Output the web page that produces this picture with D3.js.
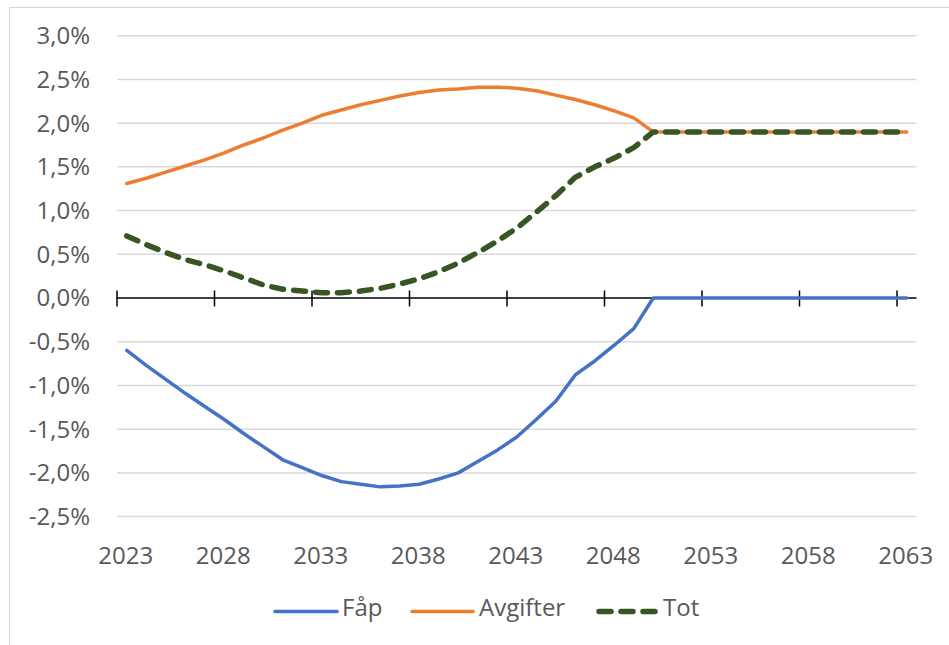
<!DOCTYPE html>
<html>
<head>
<meta charset="utf-8">
<script src="https://cdn.jsdelivr.net/npm/d3@7"></script>
<style>
  html, body { margin: 0; padding: 0; background: #fff; }
  svg { display: block; }
  text { font-family: "Open Sans", "Noto Sans", sans-serif; fill: #595959; }
</style>
</head>
<body>
<svg id="chart" width="949" height="645"></svg>
<script>
// ---- data ----
const years = [2023,2024,2025,2026,2027,2028,2029,2030,2031,2032,2033,2034,2035,2036,2037,2038,2039,2040,2041,2042,2043,2044,2045,2046,2047,2048,2049,2050,2051,2052,2053,2054,2055,2056,2057,2058,2059,2060,2061,2062,2063];
const fap = [-0.60,-0.77,-0.93,-1.09,-1.24,-1.39,-1.55,-1.70,-1.85,-1.94,-2.03,-2.10,-2.13,-2.16,-2.15,-2.13,-2.07,-2.00,-1.87,-1.74,-1.59,-1.39,-1.18,-0.88,-0.72,-0.54,-0.35,0,0,0,0,0,0,0,0,0,0,0,0,0,0];
const avgifter = [1.31,1.37,1.44,1.51,1.58,1.66,1.75,1.83,1.92,2.00,2.09,2.15,2.21,2.26,2.31,2.35,2.38,2.39,2.41,2.41,2.40,2.37,2.32,2.27,2.21,2.14,2.06,1.90,1.90,1.90,1.90,1.90,1.90,1.90,1.90,1.90,1.90,1.90,1.90,1.90,1.90];
const tot = [0.71,0.61,0.52,0.44,0.38,0.31,0.23,0.15,0.10,0.08,0.06,0.06,0.08,0.11,0.16,0.22,0.30,0.40,0.52,0.65,0.80,0.98,1.17,1.38,1.50,1.60,1.72,1.90,1.90,1.90,1.90,1.90,1.90,1.90,1.90,1.90,1.90,1.90,1.90,1.90,1.90];
const xTickLabels = ["2023","2028","2033","2038","2043","2048","2053","2058","2063"];
const yTicks = [3.0,2.5,2.0,1.5,1.0,0.5,0.0,-0.5,-1.0,-1.5,-2.0,-2.5];
const seriesNames = ["Fåp","Avgifter","Tot"];

// ---- setup ----
const svg = d3.select("#chart");
const W = 949, H = 645;
const plotL = 117, plotR = 916.5, plotT = 35.7, plotB = 516.6;

const x = d3.scaleBand().domain(years).range([plotL, plotR]).paddingInner(0).paddingOuter(0);
const xc = d => x(d) + x.bandwidth() / 2;
const y = d3.scaleLinear().domain([-2.5, 3.0]).range([plotB, plotT]);

const loc = d3.formatLocale({decimal: ",", thousands: " ", grouping: [3], currency: ["", ""], minus: "-"});
const fmt = v => loc.format(".1f")(v) + "%";

// border (chart area edge)
svg.append("line").attr("x1", 9).attr("x2", W).attr("y1", 7.5).attr("y2", 7.5)
  .attr("stroke", "#d4d4d4").attr("stroke-width", 1);
svg.append("line").attr("x1", 9.5).attr("x2", 9.5).attr("y1", 7).attr("y2", H)
  .attr("stroke", "#d4d4d4").attr("stroke-width", 1);

// gridlines
svg.append("g").selectAll("line").data(yTicks.filter(v => v !== 0)).join("line")
  .attr("x1", plotL).attr("x2", plotR)
  .attr("y1", d => y(d)).attr("y2", d => y(d))
  .attr("stroke", "#d9d9d9").attr("stroke-width", 1.5);

// y labels
svg.append("g").selectAll("text").data(yTicks).join("text")
  .attr("x", 90).attr("y", d => y(d)).attr("dy", "0.35em")
  .attr("text-anchor", "end").attr("font-size", 24)
  .text(d => fmt(d));

// zero axis
const y0 = y(0);
svg.append("line").attr("x1", plotL).attr("x2", plotR).attr("y1", y0).attr("y2", y0)
  .attr("stroke", "#000").attr("stroke-width", 1.5);
svg.append("g").selectAll("line").data(xTickLabels).join("line")
  .attr("x1", d => x(+d)).attr("x2", d => x(+d))
  .attr("y1", y0 - 7.5).attr("y2", y0 + 8.5)
  .attr("stroke", "#000").attr("stroke-width", 1.5);

// x labels
svg.append("g").selectAll("text").data(xTickLabels).join("text")
  .attr("x", d => xc(+d) - 1).attr("y", 556).attr("dy", "0.35em")
  .attr("text-anchor", "middle").attr("font-size", 24)
  .text(d => d);

// lines
const line = d3.line().x((d, i) => xc(years[i])).y(d => y(d));
svg.append("path").datum(fap).attr("d", line)
  .attr("fill", "none").attr("stroke", "#4472C4").attr("stroke-width", 3.5)
  .attr("stroke-linejoin", "round").attr("stroke-linecap", "round");
svg.append("path").datum(avgifter).attr("d", line)
  .attr("fill", "none").attr("stroke", "#ED7D31").attr("stroke-width", 3.5)
  .attr("stroke-linejoin", "round").attr("stroke-linecap", "round");
svg.append("path").datum(tot).attr("d", line)
  .attr("fill", "none").attr("stroke", "#375623").attr("stroke-width", 5.5)
  .attr("stroke-dasharray", "12 10")
  .attr("stroke-linejoin", "round").attr("stroke-linecap", "round");

// legend
const legend = [
  {name: seriesNames[0], color: "#4472C4", x0: 275, x1: 337, tx: 342, w: 3.5, dash: null},
  {name: seriesNames[1], color: "#ED7D31", x0: 412, x1: 473, tx: 479, w: 3.5, dash: null},
  {name: seriesNames[2], color: "#375623", x0: 599, x1: 657, tx: 663, w: 5.5, dash: "12 10"}
];
const lg = svg.append("g");
legend.forEach(l => {
  lg.append("line").attr("x1", l.x0).attr("x2", l.x1).attr("y1", 611.5).attr("y2", 611.5)
    .attr("stroke", l.color).attr("stroke-width", l.w).attr("stroke-linecap", "round")
    .attr("stroke-dasharray", l.dash);
  lg.append("text").attr("x", l.tx).attr("y", 608).attr("dy", "0.35em")
    .attr("font-size", 24).text(l.name);
});
</script>
</body>
</html>
